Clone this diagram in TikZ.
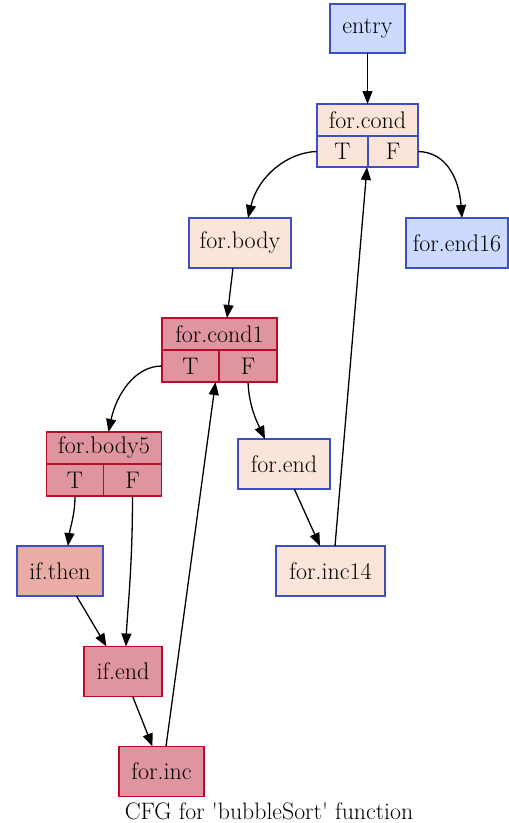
\documentclass[tikz,border=0pt]{standalone}
\usetikzlibrary{arrows.meta}
\definecolor{bluefill}{HTML}{CBDAFE}
\definecolor{peachfill}{HTML}{FBE5DA}
\definecolor{hotfill}{HTML}{DF95A0}
\definecolor{warmfill}{HTML}{EAADA6}
\definecolor{blueline}{HTML}{3D50C3}
\definecolor{hotline}{HTML}{B70D28}
\tikzset{
  box/.style={draw, line width=1.4pt, inner sep=0pt, outer sep=0pt, font=\fontsize{24}{27}\selectfont},
  coldbox/.style={box, draw=blueline, fill=bluefill},
  coolbox/.style={box, draw=blueline, fill=peachfill},
  warmbox/.style={box, draw=blueline, fill=warmfill},
  hotbox/.style={box, draw=hotline, fill=hotfill},
  edge/.style={draw=black, line width=1.3pt, -{Triangle[length=13pt,width=10pt]}},
  caption/.style={font=\fontsize{23.8}{27}\selectfont, inner sep=0pt}
}
\begin{document}
\begin{tikzpicture}[x=1pt,y=-1pt]
\useasboundingbox (0,0) rectangle (509,823);
\fill[white] (0,0) rectangle (509,823);
% nodes
\node[coldbox, minimum width=75pt, minimum height=49pt] (entry) at (367.5,28.5) {entry};
\node[coolbox, minimum width=101pt, minimum height=32pt] (fc) at (367.5,120) {for.cond};
\node[coolbox, minimum width=51pt, minimum height=31pt] (fcT) at (342.5,151.5) {T};
\node[coolbox, minimum width=50pt, minimum height=31pt] (fcF) at (393,151.5) {F};
\node[coolbox, minimum width=102pt, minimum height=50pt] (fb) at (240,243) {for.body};
\node[coldbox, minimum width=102pt, minimum height=50pt] (fe16) at (457,243) {for.end16};
\node[hotbox, minimum width=115pt, minimum height=32pt] (fc1) at (219.5,334) {for.cond1};
\node[hotbox, minimum width=57pt, minimum height=32pt] (fc1T) at (190.5,366) {T};
\node[hotbox, minimum width=58pt, minimum height=32pt] (fc1F) at (248,366) {F};
\node[hotbox, minimum width=115pt, minimum height=32pt] (fb5) at (104,448) {for.body5};
\node[hotbox, minimum width=57pt, minimum height=32pt] (fb5T) at (75,480) {T};
\node[hotbox, minimum width=58pt, minimum height=32pt] (fb5F) at (132.5,480) {F};
\node[coolbox, minimum width=92pt, minimum height=50pt] (fend) at (284,464) {for.end};
\node[warmbox, minimum width=86pt, minimum height=50pt] (ifthen) at (60,571) {if.then};
\node[coolbox, minimum width=109pt, minimum height=50pt] (finc14) at (330.5,571) {for.inc14};
\node[hotbox, minimum width=78pt, minimum height=50pt] (ifend) at (123,671.5) {if.end};
\node[hotbox, minimum width=85pt, minimum height=50pt] (finc) at (161.5,771.5) {for.inc};
\node[caption] (cap) at (269,811) {CFG for \textquotesingle bubbleSort\textquotesingle\ function};
% edges
\draw[edge] (entry.south) -- (fc.north);
\draw[edge] (fcT.west) .. controls (288,152) and (258,176) .. ([xshift=8pt]fb.north);
\draw[edge] (fcF.east) .. controls (446,152) and (459,178) .. ([xshift=5pt]fe16.north);
\draw[edge] ([xshift=-7pt]fb.south) -- ([xshift=7.5pt]fc1.north);
\draw[edge] (fc1T.west) .. controls (134,366) and (116,396) .. ([xshift=4.5pt]fb5.north);
\draw[edge] (fc1F.south) .. controls (249,405) and (256,420) .. ([xshift=-19pt]fend.north);
\draw[edge] (fb5T.south) .. controls (75,515) and (70,528) .. ([xshift=8pt]ifthen.north);
\draw[edge] (fb5F.south) .. controls (132.5,570) and (127,615) .. ([xshift=3pt]ifend.north);
\draw[edge] ([xshift=16.5pt]ifthen.south) -- ([xshift=-16.5pt]ifend.north);
\draw[edge] ([xshift=9.7pt]ifend.south) -- ([xshift=-9pt]finc.north);
\draw[edge] ([xshift=4.5pt]finc.north) -- ([xshift=25pt]fc1T.south);
\draw[edge] ([xshift=10.3pt]fend.south) -- ([xshift=-10.5pt]finc14.north);
\draw[edge] ([xshift=4.5pt]finc14.north) -- ([xshift=24.5pt]fcT.south);
\end{tikzpicture}
\end{document}
